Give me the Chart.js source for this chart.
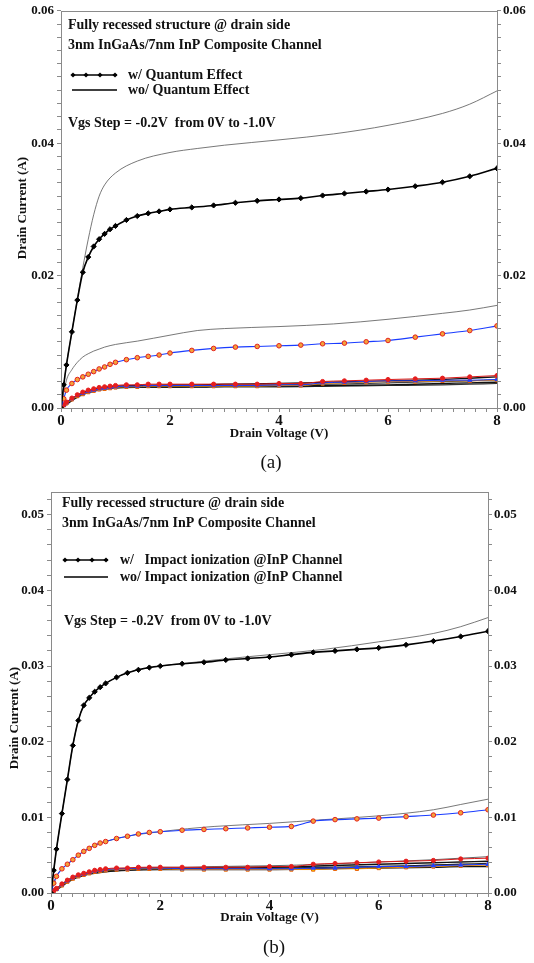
<!DOCTYPE html>
<html><head><meta charset="utf-8">
<script src="https://cdn.jsdelivr.net/npm/chart.js@4.4.1/dist/chart.umd.min.js"></script>
<style>
html,body{margin:0;padding:0;background:#fff;width:534px;height:963px;overflow:hidden}
canvas{position:absolute;left:0}
#ca{top:0}
#cb{top:478px}
</style></head><body>
<canvas id="ca" width="534" height="478"></canvas>
<canvas id="cb" width="534" height="485"></canvas>
<script>
// ---------- shared x grids (Drain Voltage, V) ----------
const vdM = [0,0.05,0.1,0.2,0.3,0.4,0.5,0.6,0.7,0.8,0.9,1.0,1.2,1.4,1.6,1.8,2.0,2.4,2.8,3.2,3.6,4.0,4.4,4.8,5.2,5.6,6.0,6.5,7.0,7.5,8.0];
const vdL = [0,0.1,0.2,0.3,0.4,0.5,0.6,0.7,0.8,1.0,1.4,2.0,2.5,3.0,4.0,5.0,6.0,7.0,7.5,8.0];

// ---------- tick labels ----------
const xTickLabels = ['0','2','4','6','8'];
const yTickLabelsA = ['0.00','0.02','0.04','0.06'];
const yTickLabelsB = ['0.00','0.01','0.02','0.03','0.04','0.05'];

// ---------- chart (a): w/ vs wo/ Quantum Effect ----------
const aW0  = [0,0.0035,0.0065,0.0115,0.0163,0.0205,0.0228,0.0244,0.0255,0.0263,0.0270,0.0275,0.0284,0.0290,0.0294,0.0297,0.0300,0.0303,0.0306,0.0310,0.0313,0.0315,0.0317,0.0321,0.0324,0.0327,0.0330,0.0335,0.0341,0.0350,0.0362];
const aWo0 = [0,0.0065,0.0115,0.0165,0.0212,0.0255,0.0292,0.0320,0.0337,0.0355,0.0373,0.0386,0.0392,0.0397,0.0405,0.0414,0.0427,0.0445,0.0459,0.0479];
const aW2  = [0,0.0014,0.0027,0.0037,0.0043,0.0047,0.0051,0.0055,0.0059,0.0062,0.0066,0.0069,0.0073,0.0076,0.0078,0.0080,0.0083,0.0087,0.0090,0.0092,0.0093,0.0094,0.0095,0.0097,0.0098,0.0100,0.0102,0.0107,0.0112,0.0117,0.0124];
const aWo2 = [0,0.0042,0.0058,0.0069,0.0077,0.0082,0.0086,0.0089,0.0092,0.0096,0.0101,0.0110,0.0117,0.0120,0.0123,0.0127,0.0134,0.0143,0.0148,0.0155];
const aW4  = [0,0.0005,0.0009,0.0015,0.0020,0.0024,0.0027,0.0029,0.0031,0.0032,0.0033,0.0034,0.0035,0.0035,0.0036,0.0036,0.0036,0.0036,0.0036,0.0036,0.0036,0.0037,0.0037,0.0040,0.0041,0.0042,0.0043,0.0044,0.0045,0.0047,0.0049];
const aW6  = [0,0.0004,0.0008,0.0014,0.0019,0.0022,0.0025,0.0027,0.0029,0.0030,0.0031,0.0032,0.0033,0.0033,0.0034,0.0034,0.0034,0.0034,0.0034,0.0034,0.0034,0.0035,0.0035,0.0038,0.0039,0.0040,0.0041,0.0041,0.0042,0.0042,0.0043];
const aW8  = [0,0.0004,0.0007,0.0013,0.0018,0.0021,0.0024,0.0026,0.0028,0.0029,0.0030,0.0031,0.0032,0.0032,0.0033,0.0033,0.0033,0.0033,0.0033,0.0033,0.0033,0.0034,0.0034,0.0037,0.0038,0.0039,0.0040,0.0040,0.0041,0.0041,0.0042];
const aWo4 = [0,0.0008,0.0014,0.0019,0.0023,0.0026,0.0028,0.0030,0.0031,0.0033,0.0034,0.0035,0.0035,0.0036,0.0037,0.0039,0.0041,0.0043,0.0045,0.0047];
const aWo6 = [0,0.0007,0.0013,0.0018,0.0022,0.0025,0.0027,0.0029,0.0030,0.0032,0.0033,0.0034,0.0034,0.0034,0.0035,0.0036,0.0038,0.0040,0.0041,0.0043];
const aWo8 = [0,0.0006,0.0012,0.0017,0.0021,0.0024,0.0026,0.0028,0.0029,0.0031,0.0032,0.0032,0.0033,0.0033,0.0033,0.0034,0.0035,0.0037,0.0038,0.0039];
const aWo10= [0,0.0005,0.0011,0.0016,0.0020,0.0023,0.0025,0.0027,0.0028,0.0030,0.0031,0.0031,0.0031,0.0032,0.0032,0.0033,0.0034,0.0035,0.0036,0.0037];

// ---------- chart (b): w/ vs wo/ Impact ionization ----------
const bW0  = [0,0.0030,0.0058,0.0105,0.0150,0.0195,0.0228,0.0248,0.0258,0.0266,0.0272,0.0277,0.0285,0.0291,0.0295,0.0298,0.0300,0.0303,0.0305,0.0308,0.0310,0.0312,0.0315,0.0318,0.0320,0.0322,0.0324,0.0328,0.0333,0.0339,0.0346];
const bWo0 = [0,0.0058,0.0105,0.0150,0.0195,0.0228,0.0248,0.0258,0.0266,0.0277,0.0291,0.0300,0.0304,0.0308,0.0315,0.0322,0.0332,0.0343,0.0352,0.0364];
const bW2  = [0,0.0013,0.0022,0.0032,0.0038,0.0044,0.0050,0.0055,0.0059,0.0063,0.0066,0.0068,0.0072,0.0075,0.0078,0.0080,0.0081,0.0083,0.0084,0.0085,0.0086,0.0087,0.0088,0.0095,0.0097,0.0098,0.0099,0.0101,0.0103,0.0106,0.0110];
const bWo2 = [0,0.0022,0.0032,0.0038,0.0044,0.0050,0.0055,0.0059,0.0063,0.0068,0.0075,0.0081,0.0085,0.0088,0.0092,0.0097,0.0102,0.0110,0.0117,0.0124];
const bW4  = [0,0.0003,0.0006,0.0012,0.0017,0.0021,0.0024,0.0026,0.0028,0.0030,0.0031,0.0032,0.0033,0.0033,0.0034,0.0034,0.0034,0.0034,0.0034,0.0034,0.0034,0.0035,0.0035,0.0038,0.0039,0.0040,0.0041,0.0042,0.0043,0.0045,0.0046];
const bW6  = [0,0.0003,0.0005,0.0011,0.0016,0.0020,0.0023,0.0025,0.0027,0.0029,0.0030,0.0031,0.0032,0.0032,0.0033,0.0033,0.0033,0.0032,0.0032,0.0032,0.0032,0.0032,0.0032,0.0033,0.0033,0.0034,0.0035,0.0035,0.0036,0.0037,0.0038];
const bW8  = [0,0.0003,0.0005,0.0010,0.0015,0.0019,0.0022,0.0024,0.0026,0.0028,0.0029,0.0030,0.0031,0.0031,0.0032,0.0032,0.0032,0.0031,0.0031,0.0031,0.0031,0.0031,0.0031,0.0031,0.0032,0.0032,0.0033,0.0034,0.0035,0.0036,0.0037];
const bWo4 = [0,0.0006,0.0012,0.0017,0.0021,0.0024,0.0026,0.0028,0.0029,0.0031,0.0033,0.0034,0.0034,0.0035,0.0036,0.0038,0.0041,0.0044,0.0046,0.0048];
const bWo6 = [0,0.0005,0.0011,0.0016,0.0020,0.0023,0.0025,0.0027,0.0028,0.0030,0.0032,0.0033,0.0033,0.0034,0.0034,0.0036,0.0038,0.0040,0.0041,0.0042];
const bWo8 = [0,0.0005,0.0010,0.0015,0.0019,0.0022,0.0024,0.0026,0.0027,0.0029,0.0031,0.0032,0.0032,0.0033,0.0033,0.0034,0.0035,0.0037,0.0038,0.0039];
const bWo10= [0,0.0004,0.0009,0.0014,0.0018,0.0021,0.0023,0.0025,0.0026,0.0028,0.0030,0.0031,0.0031,0.0031,0.0031,0.0032,0.0033,0.0034,0.0035,0.0035];

const SERIF = "'Liberation Serif','Times New Roman',serif";
const pts = (xs, ys) => xs.map((x, i) => ({x: x, y: ys[i]}));

function markerSet(ys, kind){
  const base = {data: pts(vdM, ys), pointBorderWidth: 1, cubicInterpolationMode: 'monotone', order: 0};
  if (kind === 'top')   return Object.assign(base, {borderColor:'#000', borderWidth:1.6, pointStyle:'rectRot', pointRadius:2.6, pointBackgroundColor:'#000', pointBorderColor:'#000'});
  if (kind === 'ring')  return Object.assign(base, {borderColor:'#1a3cff', borderWidth:1.1, pointStyle:'circle', pointRadius:2.3, pointBackgroundColor:'#f3a23a', pointBorderColor:'#e4201c'});
  if (kind === 'red')   return Object.assign(base, {borderColor:'#d81818', borderWidth:1, pointStyle:'circle', pointRadius:2.1, pointBackgroundColor:'#e51e1e', pointBorderColor:'#e51e1e'});
  if (kind === 'blue')  return Object.assign(base, {borderColor:'#1a3cff', borderWidth:1, pointStyle:'triangle', pointRadius:2.3, pointBackgroundColor:'#2040ff', pointBorderColor:'#2040ff'});
  return Object.assign(base, {borderColor:'#f08a00', borderWidth:1, pointStyle:'rect', pointRadius:2.3, pointBackgroundColor:'#ffe000', pointBorderColor:'#e85a00'});
}
function lineSet(ys, color, w){
  return {data: pts(vdL, ys), borderColor: color, borderWidth: w, pointRadius: 0, cubicInterpolationMode: 'monotone', order: 2};
}

function drawDiamond(ctx, x, y, r){
  ctx.beginPath(); ctx.moveTo(x, y - r); ctx.lineTo(x + r, y); ctx.lineTo(x, y + r); ctx.lineTo(x - r, y); ctx.closePath(); ctx.fill();
}

const deco = {
  id: 'deco',
  afterDraw(chart, args, o){
    const ctx = chart.ctx, a = chart.chartArea;
    ctx.save();
    ctx.strokeStyle = '#8a8a8a'; ctx.lineWidth = 1;
    ctx.strokeRect(Math.round(a.left) + 0.5, Math.round(a.top) + 0.5, Math.round(a.right - a.left), Math.round(a.bottom - a.top));
    ctx.fillStyle = '#111'; ctx.textBaseline = 'middle'; ctx.textAlign = 'left';
    ctx.font = 'bold ' + o.fs + 'px ' + SERIF;
    o.lines.forEach(t => ctx.fillText(t[0], t[1], t[2]));
    // legend samples
    ctx.strokeStyle = '#000'; ctx.fillStyle = '#000';
    ctx.lineWidth = 1.6;
    ctx.beginPath(); ctx.moveTo(o.lg.x1, o.lg.y1); ctx.lineTo(o.lg.x2, o.lg.y1); ctx.stroke();
    o.lg.marks.forEach(mx => drawDiamond(ctx, mx, o.lg.y1, 2.6));
    ctx.lineWidth = 1.4;
    ctx.beginPath(); ctx.moveTo(o.lg.x1, o.lg.y2); ctx.lineTo(o.lg.x2, o.lg.y2); ctx.stroke();
    ctx.fillStyle = '#111';
    ctx.fillText(o.lg.t1, o.lg.tx, o.lg.y1);
    ctx.fillText(o.lg.t2, o.lg.tx, o.lg.y2);
    // axis titles
    ctx.textAlign = 'center';
    ctx.font = 'bold 13px ' + SERIF;
    ctx.fillText('Drain Voltage (V)', (a.left + a.right) / 2, o.xtY);
    ctx.save();
    ctx.translate(o.ytX, o.ytY); ctx.rotate(-Math.PI / 2);
    ctx.font = 'bold 13px ' + SERIF;
    ctx.fillText('Drain Current (A)', 0, 0);
    ctx.restore();
    ctx.font = '19px ' + SERIF;
    ctx.fillText(o.cap, o.capX, o.capY);
    ctx.restore();
  }
};

function build(id, c){
  const labelOf = (labels, v) => { const l = labels.find(s => Math.abs(parseFloat(s) - v) < 1e-7); return l === undefined ? '' : l; };
  const yTicks = s => { const t = []; for (let i = 0; i * 0.002 <= c.ymax + 1e-9; i++) t.push({value: +(i * 0.002).toFixed(4)}); s.ticks = t; };
  const yAxis = (pos, w, pad) => ({
    position: pos, min: 0, max: c.ymax,
    afterBuildTicks: yTicks,
    afterFit: s => { s.width = w; },
    grid: {drawOnChartArea: false, tickLength: 4, color: '#8a8a8a'},
    border: {display: false},
    ticks: {autoSkip: false, padding: pad, color: '#111', font: {family: SERIF, weight: 'bold', size: c.yfs}, callback: v => labelOf(c.ylabels, v)}
  });
  new Chart(document.getElementById(id), {
    type: 'line',
    data: {datasets: c.datasets},
    options: {
      responsive: false, animation: false, devicePixelRatio: 1,
      layout: {padding: {top: c.top, left: 0, right: 0, bottom: 0}},
      plugins: {legend: {display: false}, tooltip: {enabled: false}, deco: c.deco},
      scales: {
        x: {
          type: 'linear', min: 0, max: 8,
          afterBuildTicks: s => { const t = []; for (let i = 0; i <= 40; i++) t.push({value: +(i * 0.2).toFixed(2)}); s.ticks = t; },
          afterFit: s => { s.height = c.xH; },
          grid: {drawOnChartArea: false, tickLength: 4, color: '#8a8a8a'},
          border: {display: false},
          ticks: {autoSkip: false, maxRotation: 0, padding: 0, color: '#111', font: {family: SERIF, weight: 'bold', size: 15}, callback: v => labelOf(xTickLabels, v)}
        },
        y: yAxis('left', c.leftW, 3),
        y2: yAxis('right', c.rightW, 2)
      }
    },
    plugins: [deco]
  });
}

build('ca', {
  ymax: 0.06, ylabels: yTickLabelsA, yfs: 13, top: 8, xH: 70, leftW: 61, rightW: 37,
  datasets: [
    markerSet(aW0, 'top'), markerSet(aW2, 'ring'),
    markerSet(aW4, 'red'), markerSet(aW6, 'blue'), markerSet(aW8, 'sq'),
    lineSet(aWo0, '#555', 0.8), lineSet(aWo2, '#555', 0.8),
    lineSet(aWo4, '#111', 1.4), lineSet(aWo6, '#444', 1.2), lineSet(aWo8, '#111', 1.4), lineSet(aWo10, '#333', 1.2)
  ],
  deco: {
    fs: 14,
    lines: [['Fully recessed structure @ drain side', 68, 25], ['3nm InGaAs/7nm InP Composite Channel', 68, 45], ['Vgs Step = -0.2V  from 0V to -1.0V', 68, 123]],
    lg: {x1: 72, x2: 117, y1: 75, y2: 90, marks: [73, 86, 100, 115], tx: 128, t1: 'w/ Quantum Effect', t2: 'wo/ Quantum Effect'},
    xtY: 434, ytX: 23, ytY: 208, cap: '(a)', capX: 271, capY: 463
  }
});

build('cb', {
  ymax: 0.053, ylabels: yTickLabelsB, yfs: 13, top: 14, xH: 70, leftW: 51, rightW: 46,
  datasets: [
    markerSet(bW0, 'top'), markerSet(bW2, 'ring'),
    markerSet(bW4, 'red'), markerSet(bW6, 'blue'), markerSet(bW8, 'sq'),
    lineSet(bWo0, '#555', 0.8), lineSet(bWo2, '#555', 0.8),
    lineSet(bWo4, '#666', 1.0), lineSet(bWo6, '#111', 1.4), lineSet(bWo8, '#222', 1.3), lineSet(bWo10, '#111', 1.4)
  ],
  deco: {
    fs: 14,
    lines: [['Fully recessed structure @ drain side', 62, 25], ['3nm InGaAs/7nm InP Composite Channel', 62, 45], ['Vgs Step = -0.2V  from 0V to -1.0V', 64, 143]],
    lg: {x1: 64, x2: 108, y1: 82, y2: 99, marks: [65, 78, 92, 106], tx: 120, t1: 'w/   Impact ionization @InP Channel', t2: 'wo/ Impact ionization @InP Channel'},
    xtY: 440, ytX: 15, ytY: 240, cap: '(b)', capX: 274, capY: 470
  }
});
</script>
</body></html>
